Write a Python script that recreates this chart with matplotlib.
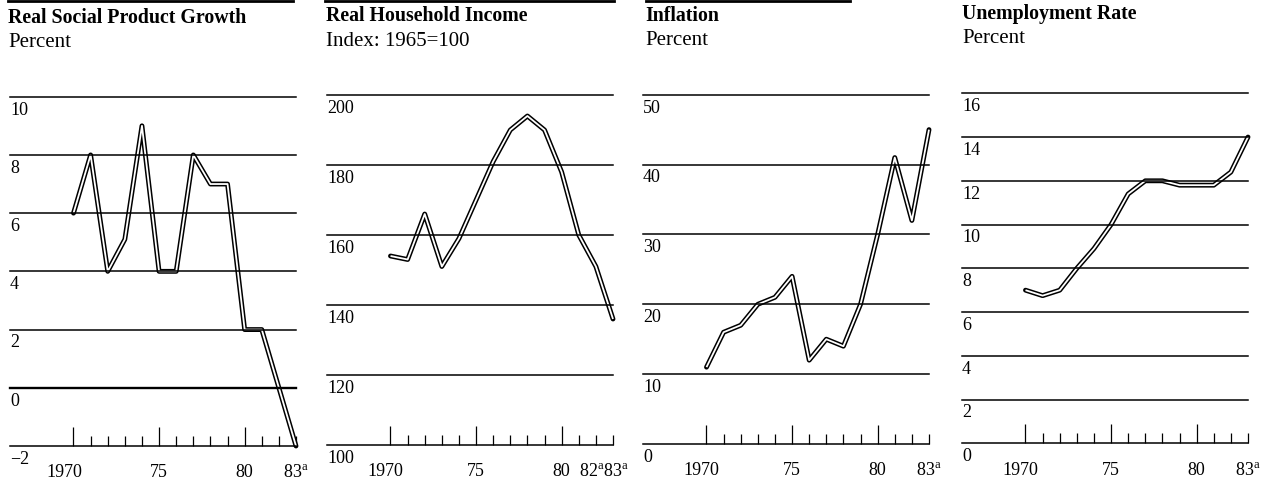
import matplotlib
matplotlib.use('Agg')
import matplotlib.pyplot as plt
from matplotlib.lines import Line2D

plt.rcParams['font.family'] = ['Liberation Serif', 'DejaVu Serif']
plt.rcParams['mathtext.fontset'] = 'custom'
plt.rcParams['mathtext.rm'] = 'Liberation Serif'
plt.rcParams['mathtext.it'] = 'Liberation Serif:italic'
plt.rcParams['mathtext.bf'] = 'Liberation Serif:bold'

# ---------------- data ----------------
years = list(range(1970, 1984))
growth = [6.0, 8.0, 4.0, 5.1, 9.0, 4.0, 4.0, 8.0, 7.0, 7.0, 2.0, 2.0, 0.0, -2.0]
income = [154, 153, 166, 151, 159, 170, 181, 190, 194, 190, 178, 160, 151, 136]
inflation = [11, 16, 17, 20, 21, 24, 12, 15, 14, 20, 30, 41, 32, 45]
unemployment = [7.0, 6.75, 7.0, 8.0, 8.9, 10.0, 11.4, 12.0, 12.0, 11.8, 11.8, 11.8, 12.4, 14.0]

titles = ['Real Social Product Growth', 'Real Household Income', 'Inflation', 'Unemployment Rate']
subtitles = ['Percent', 'Index: 1965=100', 'Percent', 'Percent']

yticks_growth = [-2, 0, 2, 4, 6, 8, 10]
ylabels_growth = ['\u22122', '0', '2', '4', '6', '8', '10']
yticks_income = [100, 120, 140, 160, 180, 200]
ylabels_income = ['100', '120', '140', '160', '180', '200']
yticks_inflation = [0, 10, 20, 30, 40, 50]
ylabels_inflation = ['0', '10', '20', '30', '40', '50']
yticks_unemp = [0, 2, 4, 6, 8, 10, 12, 14, 16]
ylabels_unemp = ['0', '2', '4', '6', '8', '10', '12', '14', '16']

xmajor = [1970, 1975, 1980]
xmajor_labels = ['', '75', '80']
first_year = 1970
first_year_label = '1970'
xminor = [1971, 1972, 1973, 1974, 1976, 1977, 1978, 1979, 1981, 1982, 1983]
sup_a = r'$^{\mathrm{a}}$'
minor_labels_std = [''] * 10 + ['83' + sup_a]
minor_labels_income = [''] * 11
income_end_years = [1982, 1983]
income_end_labels = ['82' + sup_a, '83' + sup_a]

series = [growth, income, inflation, unemployment]
yticks_all = [yticks_growth, yticks_income, yticks_inflation, yticks_unemp]
ylabels_all = [ylabels_growth, ylabels_income, ylabels_inflation, ylabels_unemp]
minor_labels_all = [minor_labels_std, minor_labels_income, minor_labels_std, minor_labels_std]

# ---------------- layout (pixels) ----------------
FW, FH = 1269, 485
lefts = [10, 327, 643, 962]
tops = [97.7, 96.0, 95.7, 94.3]
bots = [447.0, 446.0, 445.0, 444.3]
title_x = [8.5, 326, 645, 962]
title_base = [22.7, 20.7, 20.7, 18.5]
sub_base = [46.7, 45.7, 45.0, 43.3]
first_label_dx = [-6.5, -3.5, -3.7, -3.6]   # points, "1970" hangs left of its tick
W = 286
PAD = 12.5
LABEL_FS = 13

fig = plt.figure(figsize=(FW / 100, FH / 100), dpi=100)
fig.patch.set_facecolor('white')

# top rules (page header fragments)
for x0, x1 in [(8, 293), (325, 614), (646, 850)]:
    fig.add_artist(Line2D([x0 / FW, x1 / FW], [1 - 2 / FH, 1 - 2 / FH],
                          color='black', lw=2.0))

for i in range(4):
    L, t, b = lefts[i], tops[i], bots[i]
    ax = fig.add_axes([L / FW, 1 - b / FH, W / FW, (b - t) / FH])
    ax.set_facecolor('none')
    yt = yticks_all[i]
    ax.set_xlim(1966.29, 1983.0)
    ax.set_ylim(yt[0], yt[-1])
    for s in ax.spines.values():
        s.set_visible(False)
    ax.set_yticks([])

    for v, lab in zip(yt, ylabels_all[i]):
        lw = 1.7 if (i == 0 and v == 0) else 1.1
        ax.axhline(v, color='black', lw=lw, zorder=3, clip_on=False)
        ax.annotate(lab, xy=(0, v), xycoords=('axes fraction', 'data'),
                    xytext=(0, -2.8), textcoords='offset points',
                    ha='left', va='top', fontsize=LABEL_FS)

    vals = series[i]
    ax.plot(years, vals, color='black', lw=3.5, solid_capstyle='round',
            solid_joinstyle='round', zorder=2, clip_on=False)
    ax.plot(years, vals, color='white', lw=1.3, solid_capstyle='butt',
            solid_joinstyle='round', zorder=2.5, clip_on=False)

    ax.set_xticks(xmajor, labels=xmajor_labels)
    ax.set_xticks(xminor, labels=minor_labels_all[i], minor=True)
    ax.tick_params(axis='x', which='major', direction='in', length=14.0,
                   width=0.9, pad=PAD, labelsize=LABEL_FS, color='black')
    ax.tick_params(axis='x', which='minor', direction='in', length=7.2,
                   width=0.9, pad=PAD, labelsize=LABEL_FS, color='black')

    ax.annotate(first_year_label, xy=(first_year, 0),
                xycoords=('data', 'axes fraction'),
                xytext=(first_label_dx[i], -PAD), textcoords='offset points',
                ha='center', va='top', fontsize=LABEL_FS)

    if i == 1:
        # crowded "82a83a" labels: abut at the midpoint between the two ticks
        for yr, lab, dx, ha in zip(income_end_years, income_end_labels,
                                   [6.0, -7.0], ['right', 'left']):
            ax.annotate(lab, xy=(yr, 0), xycoords=('data', 'axes fraction'),
                        xytext=(dx, -PAD), textcoords='offset points',
                        ha=ha, va='top', fontsize=LABEL_FS)

    fig.text(title_x[i] / FW, 1 - title_base[i] / FH, titles[i],
             fontsize=14.3, fontweight='bold', ha='left', va='baseline')
    fig.text(title_x[i] / FW, 1 - sub_base[i] / FH, subtitles[i],
             fontsize=15, ha='left', va='baseline')

fig.savefig('out.png', dpi=100, facecolor='white')
